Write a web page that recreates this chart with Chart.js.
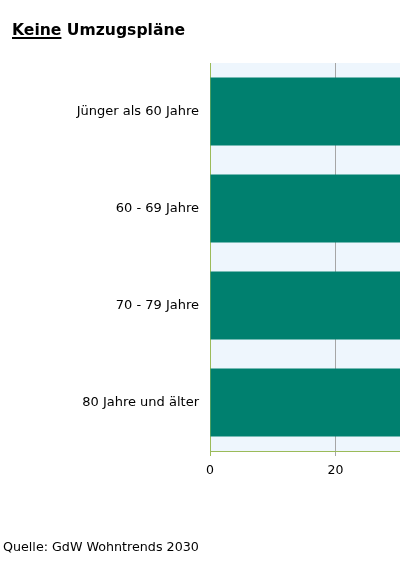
<!DOCTYPE html>
<html>
<head>
<meta charset="utf-8">
<script src="https://cdn.jsdelivr.net/npm/chart.js@4/dist/chart.umd.min.js"></script>
<style>
  html, body { margin: 0; padding: 0; background: #fff; overflow: hidden; }
  #wrap { position: absolute; left: 0; top: 0; width: 860px; height: 566px; }
  #titel {
    position: absolute; left: 12px; top: 21px;
    font: bold 15.6px "DejaVu Sans", sans-serif; color: #000;
  }
  #titel u { text-decoration-thickness: 2px; text-underline-offset: 2px; }
  #quelle {
    position: absolute; left: 3px; top: 539px;
    font: 12.7px "DejaVu Sans", sans-serif; color: #000;
  }
</style>
</head>
<body>
<div id="wrap"><canvas id="grafica" width="860" height="566"></canvas></div>
<div id="titel"><u>Keine</u> Umzugspläne</div>
<div id="quelle">Quelle: GdW Wohntrends 2030</div>

<script>
// Daten (Prozent) - die Balken laufen über den sichtbaren Bereich hinaus
const altersgruppen = ["Jünger als 60 Jahre", "60 - 69 Jahre", "70 - 79 Jahre", "80 Jahre und älter"];
const keineUmzugsplaene = [72, 80, 85, 88];
const xTicks = [0, 20, 40, 60, 80, 100];

const gruen = "#9bbb59";
const grau = "#a6a6a6";

/* ===============================
   HINTERGRUND DER ZEICHENFLÄCHE
================================= */
const hintergrund = {
    id: "hintergrund",
    beforeDraw(chart) {
        const a = chart.chartArea;
        const ctx = chart.ctx;
        ctx.save();
        ctx.fillStyle = "#eef6fd";
        ctx.fillRect(a.left, a.top, a.right - a.left, a.bottom - a.top);
        ctx.restore();
    }
};

Chart.defaults.font.family = "'DejaVu Sans', sans-serif";
Chart.defaults.color = "#000";

new Chart(document.getElementById("grafica"), {
    type: "bar",
    data: {
        labels: altersgruppen,
        datasets: [{
            data: keineUmzugsplaene,
            backgroundColor: "#00806f",
            borderWidth: 0,
            categoryPercentage: 0.7,
            barPercentage: 1.0
        }]
    },
    options: {
        indexAxis: "y",
        responsive: false,
        animation: false,
        layout: { padding: { top: 63, right: 23, left: 0, bottom: 0 } },
        plugins: {
            legend: { display: false },
            tooltip: { enabled: false }
        },
        scales: {
            x: {
                min: xTicks[0],
                max: xTicks[xTicks.length - 1],
                afterBuildTicks: s => { s.ticks = xTicks.map(v => ({ value: v })); },
                afterFit: s => { s.height = 115; },
                ticks: { font: { size: 12.5 }, padding: 7, color: "#000" },
                grid: {
                    color: ctx => ctx.index === 0 ? gruen : grau,
                    tickColor: ctx => ctx.index === 0 ? gruen : grau,
                    tickLength: 5,
                    lineWidth: 1
                },
                border: { color: gruen, width: 1 }
            },
            y: {
                afterFit: s => { s.width = 210; },
                ticks: { font: { size: 13 }, padding: 3, color: "#000" },
                grid: { display: false },
                border: { color: gruen, width: 1 }
            }
        }
    },
    plugins: [hintergrund]
});
</script>
</body>
</html>
